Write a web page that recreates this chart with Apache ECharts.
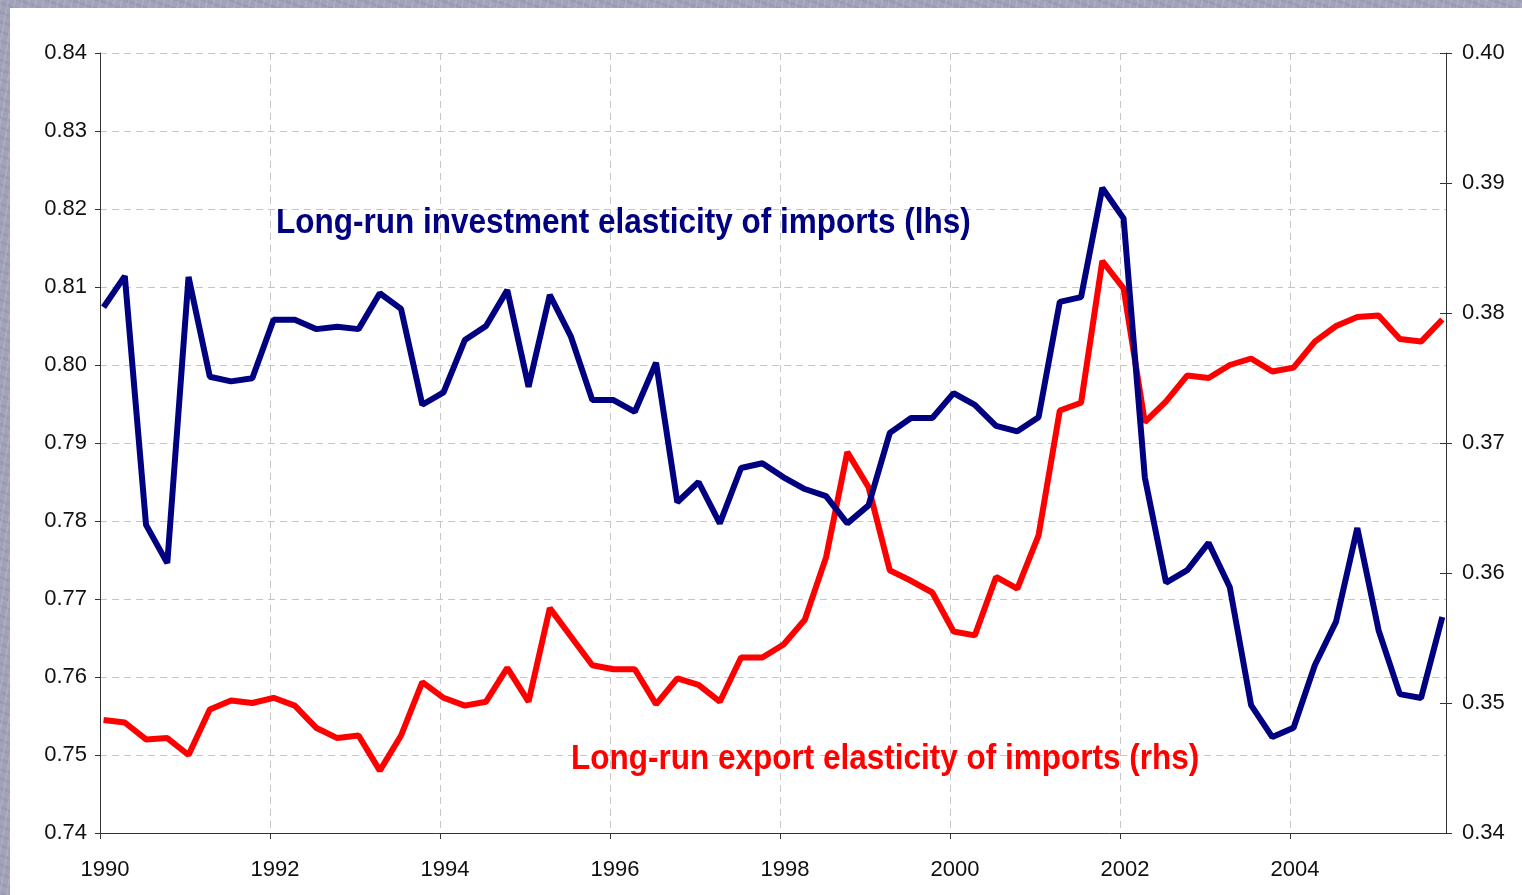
<!DOCTYPE html>
<html>
<head>
<meta charset="utf-8">
<script src="https://cdn.jsdelivr.net/npm/echarts@6/dist/echarts.min.js"></script>
<style>
  html, body { margin: 0; padding: 0; width: 1522px; height: 895px; overflow: hidden; }
  body {
    background-color: #a2a2ba;
    background-image:
      repeating-linear-gradient(100deg, rgba(255,255,255,0.10) 0px, rgba(255,255,255,0.10) 2px, rgba(0,0,0,0) 2px, rgba(0,0,0,0) 7px),
      repeating-linear-gradient(20deg, rgba(60,60,90,0.08) 0px, rgba(60,60,90,0.08) 3px, rgba(0,0,0,0) 3px, rgba(0,0,0,0) 9px);
  }
  #chart { position: absolute; left: 10px; top: 8px; width: 1512px; height: 887px; background: #fff; }
</style>
</head>
<body>
<div id="chart"></div>
<script>
// quarterly observations, 1990Q1 - 2005Q4, dated mid first month of quarter
const startYear = 1990;
const nQuarters = 64;

// long-run investment elasticity of imports (left axis)
const investElasticity = [
  0.8074, 0.8114, 0.7795, 0.7746, 0.8113, 0.7985, 0.7979, 0.7983,
  0.8058, 0.8058, 0.8046, 0.8049, 0.8046, 0.8092, 0.8072, 0.7949,
  0.7965, 0.8032, 0.8050, 0.8096, 0.7972, 0.8090, 0.8036, 0.7955,
  0.7955, 0.7940, 0.8003, 0.7824, 0.7850, 0.7797, 0.7868, 0.7874,
  0.7856, 0.7841, 0.7832, 0.7797, 0.7820, 0.7913, 0.7932, 0.7932,
  0.7964, 0.7949, 0.7922, 0.7915, 0.7933, 0.8081, 0.8087, 0.8227,
  0.8188, 0.7856, 0.7721, 0.7737, 0.7772, 0.7715, 0.7564, 0.7523,
  0.7535, 0.7615, 0.7671, 0.7791, 0.7660, 0.7578, 0.7573, 0.7677
];

// long-run export elasticity of imports (right axis)
const exportElasticity = [
  0.3487, 0.3485, 0.3472, 0.3473, 0.3460, 0.3495, 0.3502, 0.3500,
  0.3504, 0.3498, 0.3481, 0.3473, 0.3475, 0.3448, 0.3475, 0.3516,
  0.3504, 0.3498, 0.3501, 0.3527, 0.3501, 0.3573, 0.3551, 0.3529,
  0.3526, 0.3526, 0.3499, 0.3519, 0.3514, 0.3501, 0.3535, 0.3535,
  0.3545, 0.3564, 0.3612, 0.3693, 0.3666, 0.3602, 0.3594, 0.3585,
  0.3555, 0.3552, 0.3597, 0.3588, 0.3629, 0.3725, 0.3731, 0.3840,
  0.3819, 0.3716, 0.3732, 0.3752, 0.3750, 0.3760, 0.3765, 0.3755,
  0.3758, 0.3778, 0.3790, 0.3797, 0.3798, 0.3780, 0.3778, 0.3795
];

const investLabel = 'Long-run investment elasticity of imports (lhs)';
const exportLabel = 'Long-run export elasticity of imports (rhs)';

const quarters = [];
for (let i = 0; i < nQuarters; i++) quarters.push(startYear + (i * 3 + 0.5) / 12);

const FONT = '"Liberation Sans", Arial, sans-serif';
const gridLine = { show: true, lineStyle: { color: '#c6c6c6', type: [7, 5], width: 1 } };

const chart = echarts.init(document.getElementById('chart'), null, { renderer: 'canvas' });

chart.setOption({
  animation: false,
  grid: { left: 90, right: 76, top: 45, bottom: 62 },
  xAxis: {
    type: 'value',
    min: 1990,
    max: 2005.835,
    interval: 2,
    axisLine: { lineStyle: { color: '#333', width: 1 } },
    axisTick: { length: 6, lineStyle: { color: '#333' } },
    axisLabel: {
      fontFamily: FONT, fontSize: 22, color: '#111', margin: 26,
      padding: [0, 0, 0, 10],
      showMaxLabel: false,
      formatter: v => (Math.abs(v - Math.round(v)) < 1e-6 && v <= 2004) ? String(Math.round(v)) : ''
    },
    splitLine: gridLine
  },
  yAxis: [
    {
      type: 'value', position: 'left',
      min: 0.74, max: 0.84, interval: 0.01,
      axisLine: { show: true, lineStyle: { color: '#333' } },
      axisTick: { show: true, length: 5, lineStyle: { color: '#333' } },
      axisLabel: { fontFamily: FONT, fontSize: 22, color: '#111', margin: 13, formatter: v => v.toFixed(2) },
      splitLine: gridLine
    },
    {
      type: 'value', position: 'right',
      min: 0.34, max: 0.40, interval: 0.01,
      axisLine: { show: true, lineStyle: { color: '#333' } },
      axisTick: { show: true, length: 6, lineStyle: { color: '#333' } },
      axisLabel: { fontFamily: FONT, fontSize: 22, color: '#111', margin: 16, formatter: v => v.toFixed(2) },
      splitLine: { show: false }
    },
    {
      // inner half of the crossing ticks on the right axis
      type: 'value', position: 'right',
      min: 0.34, max: 0.40, interval: 0.01,
      axisLine: { show: false },
      axisTick: { show: true, inside: true, length: 6, lineStyle: { color: '#333' } },
      axisLabel: { show: false },
      splitLine: { show: false }
    }
  ],
  series: [
    {
      name: investLabel,
      type: 'line',
      yAxisIndex: 0,
      symbol: 'none',
      lineStyle: { color: '#000080', width: 6 },
      data: quarters.map((q, i) => [q, investElasticity[i]]),
      z: 3
    },
    {
      name: exportLabel,
      type: 'line',
      yAxisIndex: 1,
      symbol: 'none',
      lineStyle: { color: '#ff0000', width: 6 },
      data: quarters.map((q, i) => [q, exportElasticity[i]]),
      z: 2
    }
  ],
  graphic: [
    {
      type: 'text', x: 266, y: 215, scaleX: 0.9, z: 100,
      style: { text: investLabel, fill: '#000080', fontFamily: FONT, fontWeight: 'bold', fontSize: 35, verticalAlign: 'middle' }
    },
    {
      type: 'text', x: 561, y: 751, scaleX: 0.9, z: 100,
      style: { text: exportLabel, fill: '#ff0000', fontFamily: FONT, fontWeight: 'bold', fontSize: 35, verticalAlign: 'middle' }
    }
  ]
});
</script>
</body>
</html>
